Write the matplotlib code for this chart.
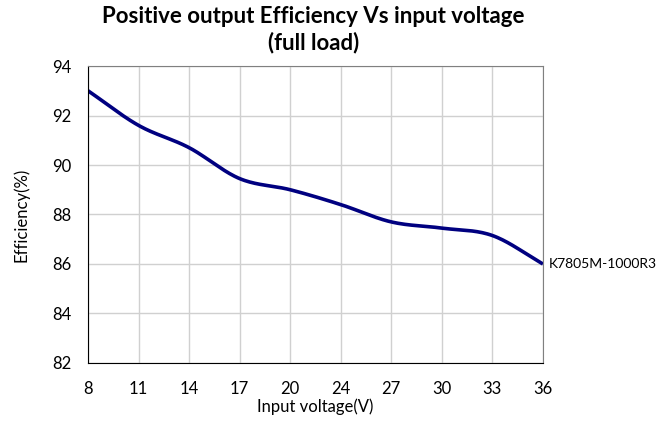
import numpy as np
import matplotlib.pyplot as plt

voltages = ['8', '11', '14', '17', '20', '24', '27', '30', '33', '36']
efficiency = [93.0, 91.6, 90.7, 89.45, 89.0, 88.4, 87.7, 87.45, 87.15, 86.0]
y_ticks = [82, 84, 86, 88, 90, 92, 94]
series_name = 'K7805M-1000R3'


def catmull_rom(x, y, n=30):
    # smooth curve through the points (like Excel's smoothed line)
    x = np.asarray(x, float)
    y = np.asarray(y, float)
    px = np.concatenate([[2 * x[0] - x[1]], x, [2 * x[-1] - x[-2]]])
    py = np.concatenate([[2 * y[0] - y[1]], y, [2 * y[-1] - y[-2]]])
    xs, ys = [], []
    t = np.linspace(0, 1, n, endpoint=False)
    for i in range(1, len(px) - 2):
        p0, p1, p2, p3 = py[i - 1], py[i], py[i + 1], py[i + 2]
        q0, q1, q2, q3 = px[i - 1], px[i], px[i + 1], px[i + 2]
        ys.append(0.5 * (2 * p1 + (-p0 + p2) * t + (2 * p0 - 5 * p1 + 4 * p2 - p3) * t ** 2
                         + (-p0 + 3 * p1 - 3 * p2 + p3) * t ** 3))
        xs.append(0.5 * (2 * q1 + (-q0 + q2) * t + (2 * q0 - 5 * q1 + 4 * q2 - q3) * t ** 2
                         + (-q0 + 3 * q1 - 3 * q2 + q3) * t ** 3))
    xs.append([x[-1]])
    ys.append([y[-1]])
    return np.concatenate(xs), np.concatenate(ys)


plt.rcParams['font.family'] = ['Lato', 'DejaVu Sans']

fig = plt.figure(figsize=(6.67, 4.26), dpi=100)
ax = fig.add_axes([0.132, 0.148, 0.682, 0.697])

idx = np.arange(len(voltages))
sx, sy = catmull_rom(idx, efficiency)
ax.plot(sx, sy, color='#000080', linewidth=2.6, solid_capstyle='butt')

ax.set_xlim(0, len(voltages) - 1)
ax.set_ylim(y_ticks[0], y_ticks[-1])
ax.set_xticks(idx)
ax.set_xticklabels(voltages, fontsize=12)
ax.set_yticks(y_ticks)
ax.set_yticklabels([str(v) for v in y_ticks], fontsize=12)
ax.tick_params(axis='x', length=0, pad=13)
ax.tick_params(axis='y', length=0, pad=12)
ax.grid(True, color='#d0d0d0', linewidth=1)
ax.set_axisbelow(True)

for s in ['left', 'bottom']:
    ax.spines[s].set_color('black')
for s in ['top', 'right']:
    ax.spines[s].set_color('#808080')

ax.text(1.012, sy[-1], series_name, transform=ax.get_yaxis_transform(),
        fontsize=10, va='center', ha='left')

ax.set_xlabel('Input voltage(V)', fontsize=12, labelpad=1)
ax.set_ylabel('Efficiency(%)', fontsize=12, labelpad=16)
fig.suptitle('Positive output Efficiency Vs input voltage\n(full load)',
             fontsize=16, x=0.47, y=0.985, fontweight='bold', linespacing=1.25)

fig.savefig('out.png', dpi=100)
